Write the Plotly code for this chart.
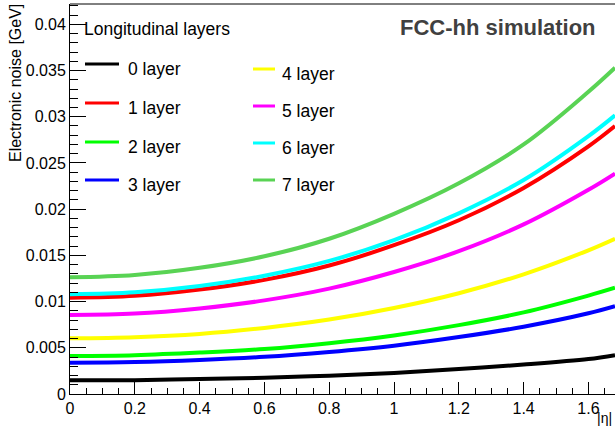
import plotly.graph_objects as go

# |eta| sampling points
eta = [0.0, 0.2, 0.4, 0.6, 0.8, 1.0, 1.2, 1.4, 1.6, 1.682]

# electronic noise per longitudinal layer [GeV]
noise_layer0 = [0.00148, 0.00150, 0.00162, 0.00176, 0.00198, 0.00228, 0.00270, 0.00318, 0.00378, 0.00420]
noise_layer1 = [0.01042, 0.01063, 0.01130, 0.01235, 0.01390, 0.01610, 0.01880, 0.02230, 0.02680, 0.02900]
noise_layer2 = [0.00411, 0.00420, 0.00448, 0.00487, 0.00550, 0.00634, 0.00745, 0.00883, 0.01065, 0.01150]
noise_layer3 = [0.00339, 0.00346, 0.00368, 0.00402, 0.00455, 0.00523, 0.00616, 0.00728, 0.00873, 0.00950]
noise_layer4 = [0.00603, 0.00615, 0.00650, 0.00715, 0.00805, 0.00930, 0.01090, 0.01295, 0.01555, 0.01680]
noise_layer5 = [0.00855, 0.00870, 0.00926, 0.01013, 0.01140, 0.01320, 0.01545, 0.01835, 0.02210, 0.02385]
noise_layer6 = [0.01079, 0.01100, 0.01168, 0.01280, 0.01440, 0.01665, 0.01955, 0.02315, 0.02790, 0.03015]
noise_layer7 = [0.01263, 0.01288, 0.01365, 0.01490, 0.01680, 0.01950, 0.02280, 0.02700, 0.03270, 0.03530]

layer_names = ["0 layer", "1 layer", "2 layer", "3 layer",
               "4 layer", "5 layer", "6 layer", "7 layer"]
layer_colors = ["#000000", "#ff0000", "#00ff00", "#0000ff",
                "#ffff00", "#ff00ff", "#00ffff", "#59d354"]
layer_noise = [noise_layer0, noise_layer1, noise_layer2, noise_layer3,
               noise_layer4, noise_layer5, noise_layer6, noise_layer7]

x_ticks = [0, 0.2, 0.4, 0.6, 0.8, 1, 1.2, 1.4, 1.6]
x_tick_text = ["0", "0.2", "0.4", "0.6", "0.8", "1", "1.2", "1.4", "1.6"]
y_ticks = [0, 0.005, 0.01, 0.015, 0.02, 0.025, 0.03, 0.035, 0.04]
y_tick_text = ["0", "0.005", "0.01", "0.015", "0.02", "0.025", "0.03", "0.035", "0.04"]

FONT = "Liberation Sans, Arial, Helvetica, sans-serif"

fig = go.Figure()
# draw the upper curves last so the order matches the stacking
draw_order = [0, 3, 2, 4, 5, 1, 6, 7]
for i in draw_order:
    fig.add_trace(go.Scatter(
        x=eta, y=layer_noise[i], mode="lines", name=layer_names[i],
        line=dict(color=layer_colors[i], width=4, shape="spline"),
        showlegend=False, hoverinfo="skip"))

fig.update_layout(
    width=615, height=429,
    margin=dict(l=70, r=0, t=4, b=35),
    paper_bgcolor="white", plot_bgcolor="white",
    font=dict(family=FONT, size=16, color="black"),
    xaxis=dict(range=[0, 1.682], tickvals=x_ticks, ticktext=x_tick_text,
               ticks="inside", ticklen=12, tickcolor="black", tickwidth=1,
               minor=dict(dtick=0.05, ticks="inside", ticklen=6, tickcolor="black"),
               showgrid=False, zeroline=False, showline=True, linecolor="black",
               linewidth=1, tickfont=dict(size=16)),
    yaxis=dict(range=[0, 0.0422], tickvals=y_ticks, ticktext=y_tick_text,
               ticks="inside", ticklen=16, tickcolor="black", tickwidth=1,
               minor=dict(dtick=0.001, ticks="inside", ticklen=8, tickcolor="black"),
               showgrid=False, zeroline=False, showline=True, linecolor="black",
               linewidth=1, tickfont=dict(size=16)),
)

# top frame line
fig.add_shape(type="line", xref="paper", yref="paper", x0=0, x1=1, y0=1, y1=1,
              line=dict(color="black", width=1))

# axis titles
fig.add_annotation(text="Electronic noise [GeV]", textangle=-90,
                   xref="paper", yref="paper", x=0, y=1, xanchor="center", yanchor="top",
                   xshift=-55, yshift=2, showarrow=False, font=dict(size=16))
fig.add_annotation(text="|η|", xref="paper", yref="paper", x=1, y=0,
                   xanchor="right", yanchor="bottom", xshift=-1, yshift=-34,
                   showarrow=False, font=dict(size=14))

fig.add_annotation(text="<b>FCC-hh simulation</b>", xref="paper", yref="paper",
                   x=1, y=1, xanchor="right", yanchor="middle",
                   xshift=-17, yshift=-23, showarrow=False,
                   font=dict(size=22, color="#404040"))

# legend drawn as paper-anchored samples and labels
fig.add_annotation(text="Longitudinal layers", xref="paper", yref="paper",
                   x=12 / 545, y=1 - 25 / 390, xanchor="left", yanchor="middle",
                   showarrow=False, font=dict(size=17.5))

col_x = [(15, 49, 56), (183, 205, 210)]  # line start, line end, text start (px from left of plot)
row_y = [[64, 103, 142, 180], [69, 106, 143, 180]]  # sample line y (px from top of page)
for idx in range(8):
    c = idx // 4
    r = idx % 4
    x0, x1, xt = col_x[c]
    yl = row_y[c][r]
    yp = 1 - (yl - 4) / 390
    fig.add_shape(type="line", xref="paper", yref="paper",
                  x0=x0 / 545, x1=x1 / 545, y0=yp, y1=yp,
                  line=dict(color=layer_colors[idx], width=3))
    fig.add_annotation(text=layer_names[idx], xref="paper", yref="paper",
                       x=xt / 545, y=1 - (yl + 5 - 4) / 390, xanchor="left", yanchor="middle",
                       showarrow=False, font=dict(size=17.5))

fig.write_html("out.html")
